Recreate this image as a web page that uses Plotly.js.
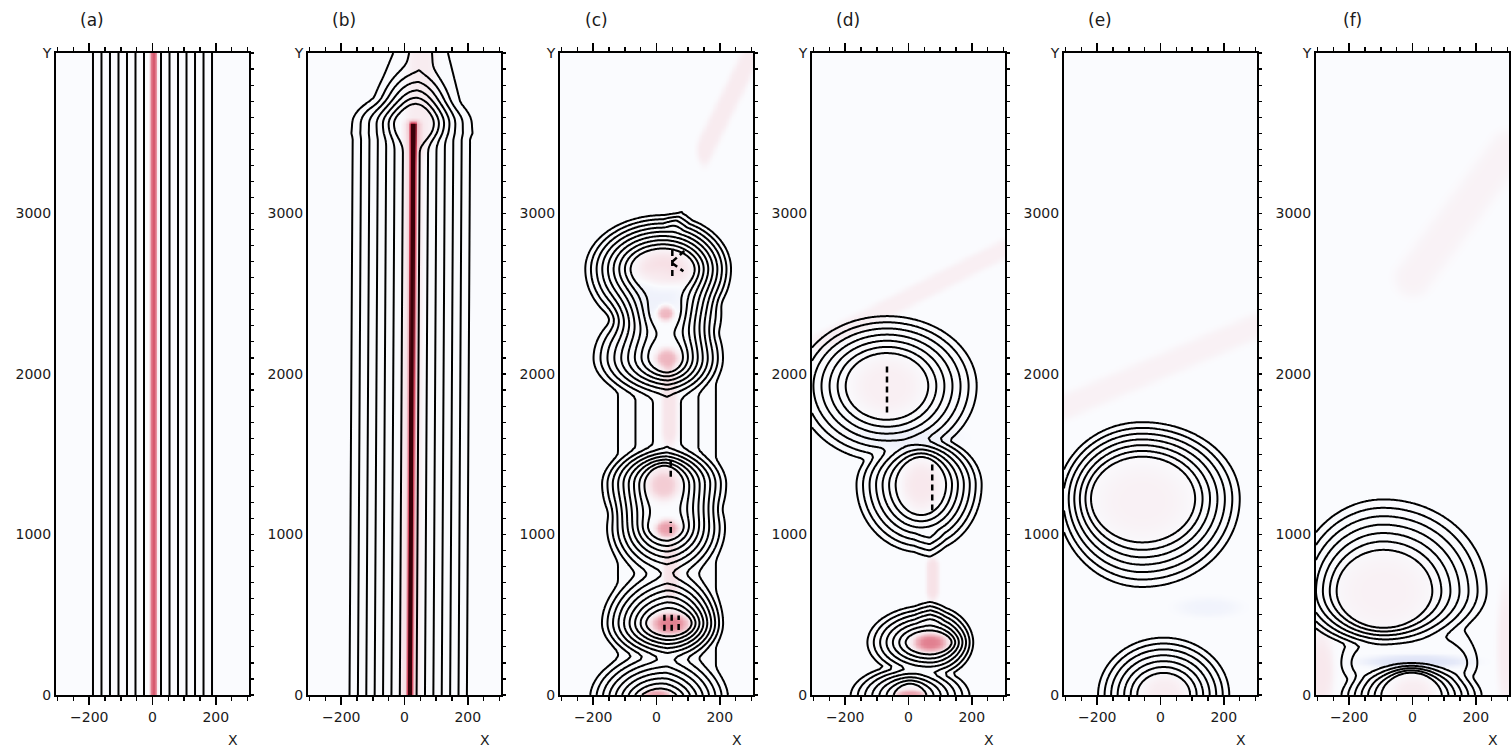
<!DOCTYPE html>
<html>
<head>
<meta charset="utf-8">
<script src="https://cdn.plot.ly/plotly-3.0.1.min.js"></script>
<style>
  html, body { margin: 0; padding: 0; background: #ffffff; }
  #plot { width: 1511px; height: 748px; }
</style>
</head>
<body>
<div id="plot"></div>
<script>
// ---- panel data -----------------------------------------------------------
const panelLabels = ['(a)', '(b)', '(c)', '(d)', '(e)', '(f)'];
const xTickValues = [-200, 0, 200];
const xTickLabels = ['\u2212200', '0', '200'];
const yTickValues = [0, 1000, 2000, 3000, 4000];
const yTickLabels = ['0', '1000', '2000', '3000', 'Y'];

// vortex rows: [x, y, core half-width, core half-height,
//               outer left, outer right, outer below, outer above, strength]
const vorticesA = [];
const vorticesB = [[35, 3560, 20, 60, 150, 150, 200, 420, 1]];
const vorticesC = [
  [21, 2654, 85, 102, 264, 229, 440, 362, 1],
  [27, 2382, 23, 44, 193, 193, 384, 384, 1],
  [32, 2099, 33, 61, 253, 193, 291, 384, 1],
  [24, 1315, 43, 92, 213, 213, 432, 269, 1],
  [30, 1040, 33, 38, 203, 203, 358, 378, 1],
  [42, 447, 56, 55, 232, 180, 275, 385, 1],
  [8, -20, 38, 25, 238, 238, 325, 325, 1]
];
const vorticesD = [
  [-68, 1925, 105, 167, 309, 309, 513, 474, 1],
  [40, 1310, 60, 150, 225, 210, 460, 330, 1],
  [68, 327, 57, 49, 218, 148, 250, 259, 1],
  [5, -10, 30, 60, 211, 211, 220, 220, 1]
];
const vorticesE = [
  [-58, 1223, 144, 226, 285, 332, 596, 513, 1],
  [10, 0, 63, 101, 228, 228, 394, 394, 1]
];
const vorticesF = [
  [-92, 647, 126, 205, 300, 355, 384, 624, 1],
  [-3, -10, 75, 135, 243, 243, 240, 240, 1],
  [-10, 200, 170, 150, 247, 247, 300, 600, 0.3]
];

// strip rows (merge with vortices):
// [x1, y1, x2, y2, half-width at start, end half-height, strength, half-width at end]
const stripsA = [[0, -1000, 0, 5000, 215, 215, 1]];
const stripsB = [
  [10, -600, 22, 3560, 212, 212, 1],
  [30, 3500, 55, 4100, 270, 60, 0.34, 110]
];
const stripsC = [[33, 0, 33, 2400, 210, 210, 0.38]];
const stripsD = [];
const stripsE = [];
const stripsF = [];

// filament rows (added on top): [x1, y1, x2, y2, half-width x, half-width y, strength]
const filamentsC = [[60, 2950, 135, 3150, 40, 80, 0.1]];
const filamentsD = [[68, 480, 68, 980, 50, 60, 0.1]];

// short dark streaks inside the cores: [x1, y1, x2, y2]
const streaksC = [
  [50, 2610, 50, 2790], [50, 2700, 90, 2770], [50, 2690, 85, 2640],
  [45, 1360, 45, 1470], [45, 1010, 45, 1080],
  [25, 400, 25, 500], [48, 400, 48, 500], [70, 405, 70, 495]
];
const streaksD = [[-68, 1760, -68, 2060], [75, 1150, 75, 1460]];

// vorticity tint rows: [x1, y1, x2, y2, half-width x, half-width y, strength]
const tintA = [[2, -1000, 2, 5000, 11, 11, 0.72]];
const tintB = [
  [14, -600, 26, 3560, 11, 11, 0.85],
  [14, -600, 26, 3560, 30, 30, 0.22],
  [45, 3560, 60, 4200, 45, 200, 0.12]
];
const tintC = [
  [21, 2654, 21, 2654, 85, 115, 0.22],
  [27, 2382, 27, 2382, 28, 50, 0.45],
  [32, 2099, 32, 2099, 38, 65, 0.4],
  [21, 1312, 21, 1312, 50, 100, 0.3],
  [32, 1040, 32, 1040, 38, 55, 0.5],
  [42, 447, 42, 447, 60, 70, 0.6],
  [0, 0, 0, 0, 45, 40, 0.5],
  [45, 690, 45, 860, 25, 100, 0.2],
  [40, 1650, 40, 1950, 25, 100, 0.18],
  [150, 3400, 300, 4000, 25, 100, 0.13],
  [0, 2500, 0, 2500, 80, 150, -0.1]
];
const tintD = [
  [-68, 1925, -68, 1925, 110, 180, 0.1],
  [40, 1310, 40, 1310, 60, 150, 0.15],
  [68, 327, 68, 327, 55, 60, 0.6],
  [5, 0, 5, 0, 50, 40, 0.5],
  [75, 650, 75, 800, 20, 60, 0.2],
  [-280, 2200, 300, 2780, 30, 60, 0.1],
  [0, 1600, 0, 1600, 150, 80, -0.1]
];
const tintE = [
  [-58, 1210, -58, 1210, 150, 240, 0.08],
  [12, 0, 12, 0, 70, 130, 0.12],
  [-300, 1800, 300, 2300, 40, 80, 0.08],
  [150, 550, 150, 550, 100, 60, -0.08]
];
const tintF = [
  [-92, 647, -92, 647, 150, 240, 0.08],
  [0, 0, 0, 0, 70, 120, 0.12],
  [10, 210, 10, 210, 170, 40, -0.25],
  [-290, 150, -290, 150, 40, 250, 0.15],
  [295, 300, 295, 300, 30, 400, 0.12],
  [0, 2600, 300, 3400, 60, 120, 0.07]
];

// ---- field construction ---------------------------------------------------
const X_MIN = -305, X_MAX = 305, Y_MIN = 0, Y_MAX = 4000;
const gridX = [], gridY = [];
for (let v = X_MIN; v <= X_MAX + 1e-9; v += 5) gridX.push(v);
for (let v = Y_MIN; v <= Y_MAX + 1e-9; v += 20) gridY.push(v);

// distance to a (possibly slanted) segment, in units of the row's half-widths
function segmentDistance(px, py, r) {
  const [x1, y1, x2, y2, rx, ry] = r;
  const ax = x1 / rx, ay = y1 / ry, bx = x2 / rx, by = y2 / ry;
  const qx = px / rx, qy = py / ry;
  const vx = bx - ax, vy = by - ay, l2 = vx * vx + vy * vy;
  let t = l2 > 0 ? ((qx - ax) * vx + (qy - ay) * vy) / l2 : 0;
  t = Math.max(0, Math.min(1, t));
  const dx = qx - (ax + t * vx), dy = qy - (ay + t * vy);
  return Math.sqrt(dx * dx + dy * dy);
}

// distance to a near-vertical strip whose half-width may taper along it
function stripDistance(px, py, r) {
  const [x1, y1, x2, y2, w1, ry] = r;
  const w2 = r.length > 7 ? r[7] : w1;
  const t = Math.max(0, Math.min(1, (py - y1) / (y2 - y1)));
  const cx = x1 + t * (x2 - x1), w = w1 + t * (w2 - w1);
  const ey = py < y1 ? (y1 - py) / ry : (py > y2 ? (py - y2) / ry : 0);
  return Math.hypot((px - cx) / w, ey);
}

function vortexValue(px, py, v) {
  const [cx, cy, ix, iy, oL, oR, oD, oU, amp] = v;
  const dx = px - cx, dy = py - cy;
  const dIn = Math.hypot(dx / ix, dy / iy);
  if (dIn <= 1) return amp;
  const dOut = Math.hypot(dx / (dx < 0 ? oL : oR), dy / (dy < 0 ? oD : oU));
  if (dOut >= 1) return 0;
  return amp * dIn * (1 - dOut) / (dIn - dOut);
}

function tracerField(vortices, strips, filaments, p) {
  return gridY.map(py => gridX.map(px => {
    let s = 0;
    vortices.forEach(v => { s += Math.pow(vortexValue(px, py, v), p); });
    strips.forEach(b => { s += Math.pow(b[6] * Math.max(0, 1 - stripDistance(px, py, b)), p); });
    let z = Math.pow(s, 1 / p);
    filaments.forEach(f => { z += f[6] * Math.max(0, 1 - segmentDistance(px, py, f)); });
    return z;
  }));
}

function tintField(tints) {
  return gridY.map(py => gridX.map(px => {
    let w = 0;
    tints.forEach(t => { const d = segmentDistance(px, py, t); w += t[6] * Math.exp(-d * d * d * d); });
    return Math.max(-1, Math.min(1, w));
  }));
}

const EIGHTHS = [0.125, 0.875, 0.125];
const TENTHS = [0.1, 0.9, 0.1];
const panels = [
  { vort: vorticesA, strips: stripsA, fil: [], tint: tintA, lv: EIGHTHS, streaks: [] },
  { vort: vorticesB, strips: stripsB, fil: [], tint: tintB, lv: EIGHTHS, streaks: [] },
  { vort: vorticesC, strips: stripsC, fil: filamentsC, tint: tintC, lv: TENTHS, streaks: streaksC },
  { vort: vorticesD, strips: stripsD, fil: filamentsD, tint: tintD, lv: EIGHTHS, streaks: streaksD },
  { vort: vorticesE, strips: stripsE, fil: [], tint: tintE, lv: EIGHTHS, streaks: [] },
  { vort: vorticesF, strips: stripsF, fil: [], tint: tintF, lv: EIGHTHS, streaks: [] }
];

const tintScale = [
  [0, '#7080d0'], [0.35, '#d8def5'], [0.5, '#fafbfe'], [0.6, '#f7e2e7'],
  [0.75, '#eaa0ac'], [0.9, '#d04058'], [1, '#3a0008']
];

// ---- geometry of the six frames (pixels) ----------------------------------
const W = 1511, H = 748;
const FRAME_W = 193, FRAME_STEP = 252, FIRST_LEFT = 56;
const PLOT_TOP = 53, PLOT_BOTTOM = 695;
const tickFont = { family: 'DejaVu Sans', size: 14, color: '#1a1a1a' };

const traces = [];
const layout = {
  width: W, height: H,
  margin: { l: 0, r: 0, t: 0, b: 0 },
  paper_bgcolor: '#ffffff', plot_bgcolor: '#fafbfe',
  showlegend: false,
  annotations: []
};

panels.forEach((pn, i) => {
  const n = i + 1;
  const xa = n === 1 ? 'x' : 'x' + n;
  const ya = n === 1 ? 'y' : 'y' + n;
  const yr = 'y' + (n + 6);
  const left = FIRST_LEFT + i * FRAME_STEP;
  const right = left + FRAME_W;

  traces.push({
    type: 'heatmap', x: gridX, y: gridY, z: tintField(pn.tint),
    zmin: -1, zmax: 1, colorscale: tintScale, showscale: false,
    zsmooth: 'best', hoverinfo: 'skip', xaxis: xa, yaxis: ya
  });
  traces.push({
    type: 'contour', x: gridX, y: gridY, z: tracerField(pn.vort, pn.strips, pn.fil, 3),
    autocontour: false,
    contours: { start: pn.lv[0], end: pn.lv[1], size: pn.lv[2], coloring: 'none' },
    line: { color: '#000000', width: 2, smoothing: 0.5 },
    showscale: false, hoverinfo: 'skip', xaxis: xa, yaxis: ya
  });
  if (pn.streaks.length) {
    const sx = [], sy = [];
    pn.streaks.forEach(s => { sx.push(s[0], s[2], null); sy.push(s[1], s[3], null); });
    traces.push({
      type: 'scatter', mode: 'lines', x: sx, y: sy, connectgaps: false,
      line: { color: '#000000', width: 2.5, dash: '6px,4px' },
      hoverinfo: 'skip', xaxis: xa, yaxis: ya
    });
  }
  // carrier for the right-hand tick axis
  traces.push({ type: 'scatter', x: [0], y: [0], mode: 'markers',
    marker: { opacity: 0 }, hoverinfo: 'skip', xaxis: xa, yaxis: yr });

  layout['xaxis' + (n === 1 ? '' : n)] = {
    domain: [left / W, right / W], range: [X_MIN, X_MAX], anchor: ya,
    showline: true, linecolor: '#000', linewidth: 2, mirror: 'ticks',
    ticks: 'outside', ticklen: 8, tickwidth: 1.5, tickcolor: '#000',
    tickvals: xTickValues, ticktext: xTickLabels, tickfont: tickFont,
    minor: { dtick: 50, tick0: 0, ticks: 'outside', ticklen: 4, tickwidth: 1.5, tickcolor: '#000' },
    showgrid: false, zeroline: false, fixedrange: true
  };
  layout['yaxis' + (n === 1 ? '' : n)] = {
    domain: [1 - PLOT_BOTTOM / H, 1 - PLOT_TOP / H], range: [Y_MIN, Y_MAX], anchor: xa,
    showline: true, linecolor: '#000', linewidth: 2, mirror: true,
    ticks: '', tickvals: yTickValues, ticktext: yTickLabels, tickfont: tickFont,
    showgrid: false, zeroline: false, fixedrange: true
  };
  layout['yaxis' + (n + 6)] = {
    overlaying: ya, side: 'right', anchor: xa, range: [Y_MIN, Y_MAX],
    ticks: 'outside', dtick: 100, tick0: 0, ticklen: 4, tickwidth: 1.2, tickcolor: '#000',
    showticklabels: false, showline: false, showgrid: false, zeroline: false, fixedrange: true
  };

  layout.annotations.push({
    text: panelLabels[i], xref: 'paper', yref: 'paper',
    x: (left + 36) / W, y: 1 - 20 / H, xanchor: 'center', yanchor: 'middle',
    showarrow: false, font: { family: 'DejaVu Sans', size: 17, color: '#1a1a1a' }
  });
  layout.annotations.push({
    text: 'X', xref: 'paper', yref: 'paper',
    x: (left + 177) / W, y: 1 - 740 / H, xanchor: 'center', yanchor: 'middle',
    showarrow: false, font: { family: 'DejaVu Sans', size: 14, color: '#1a1a1a' }
  });
});

Plotly.newPlot('plot', traces, layout, { staticPlot: true, displayModeBar: false });
</script>
</body>
</html>
